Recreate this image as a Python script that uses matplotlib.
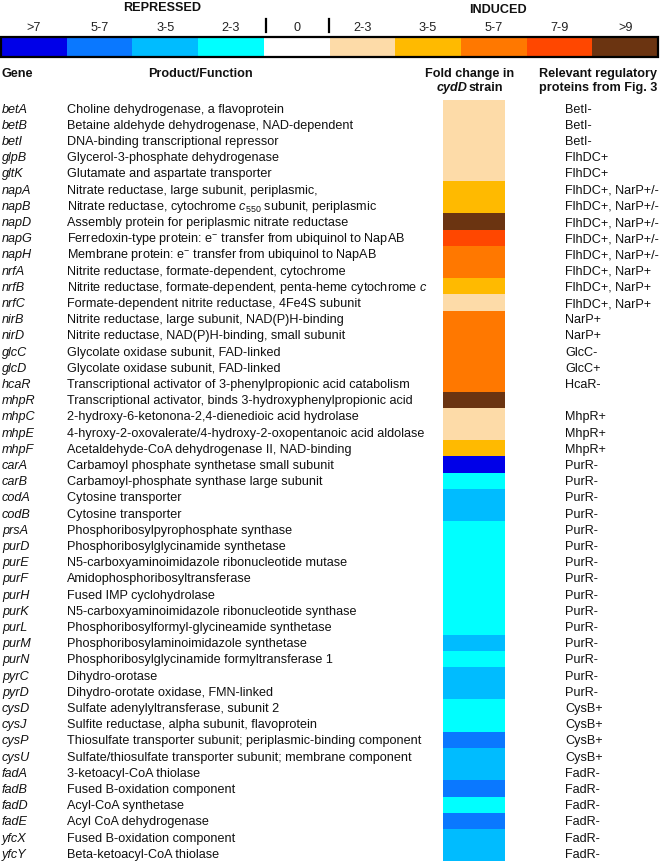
import numpy as np
import matplotlib
matplotlib.use("Agg")
import matplotlib.pyplot as plt
from matplotlib.colors import ListedColormap, BoundaryNorm

plt.rcParams['font.family'] = ['Liberation Sans', 'DejaVu Sans']
plt.rcParams['mathtext.fontset'] = 'custom'
plt.rcParams['mathtext.rm'] = 'Liberation Sans'
plt.rcParams['mathtext.it'] = 'Liberation Sans:italic'

# colour key: repressed (negative) -> induced (positive)
key_labels = ['>7', '5-7', '3-5', '2-3', '0', '2-3', '3-5', '5-7', '7-9', '>9']
key_levels = [-4, -3, -2, -1, 0, 1, 2, 3, 4, 5]
key_colors = ['#0000E8', '#0A78FF', '#00BCFF', '#00FFFF', '#FFFFFF',
              '#FDDBA8', '#FFBA00', '#FF7800', '#FF4700', '#6B3411']

genes = ['betA', 'betB', 'betI', 'glpB', 'gltK', 'napA', 'napB', 'napD', 'napG',
         'napH', 'nrfA', 'nrfB', 'nrfC', 'nirB', 'nirD', 'glcC', 'glcD', 'hcaR',
         'mhpR', 'mhpC', 'mhpE', 'mhpF', 'carA', 'carB', 'codA', 'codB', 'prsA',
         'purD', 'purE', 'purF', 'purH', 'purK', 'purL', 'purM', 'purN', 'pyrC',
         'pyrD', 'cysD', 'cysJ', 'cysP', 'cysU', 'fadA', 'fadB', 'fadD', 'fadE',
         'yfcX', 'yfcY']

products = [
    'Choline dehydrogenase, a flavoprotein',
    'Betaine aldehyde dehydrogenase, NAD-dependent',
    'DNA-binding transcriptional repressor',
    'Glycerol-3-phosphate dehydrogenase',
    'Glutamate and aspartate transporter',
    'Nitrate reductase, large subunit, periplasmic,',
    r'Nitrate reductase, cytochrome $c_{550}$ subunit, periplasmic',
    'Assembly protein for periplasmic nitrate reductase',
    r'Ferredoxin-type protein: e$^{-}$ transfer from ubiquinol to NapAB',
    r'Membrane protein: e$^{-}$ transfer from ubiquinol to NapAB',
    'Nitrite reductase, formate-dependent, cytochrome',
    r'Nitrite reductase, formate-dependent, penta-heme cytochrome $c$',
    'Formate-dependent nitrite reductase, 4Fe4S subunit',
    'Nitrite reductase, large subunit, NAD(P)H-binding',
    'Nitrite reductase, NAD(P)H-binding, small subunit',
    'Glycolate oxidase subunit, FAD-linked',
    'Glycolate oxidase subunit, FAD-linked',
    'Transcriptional activator of 3-phenylpropionic acid catabolism',
    'Transcriptional activator, binds 3-hydroxyphenylpropionic acid',
    '2-hydroxy-6-ketonona-2,4-dienedioic acid hydrolase',
    '4-hyroxy-2-oxovalerate/4-hydroxy-2-oxopentanoic acid aldolase',
    'Acetaldehyde-CoA dehydrogenase II, NAD-binding',
    'Carbamoyl phosphate synthetase small subunit',
    'Carbamoyl-phosphate synthase large subunit',
    'Cytosine transporter',
    'Cytosine transporter',
    'Phosphoribosylpyrophosphate synthase',
    'Phosphoribosylglycinamide synthetase',
    'N5-carboxyaminoimidazole ribonucleotide mutase',
    'Amidophosphoribosyltransferase',
    'Fused IMP cyclohydrolase',
    'N5-carboxyaminoimidazole ribonucleotide synthase',
    'Phosphoribosylformyl-glycineamide synthetase',
    'Phosphoribosylaminoimidazole synthetase',
    'Phosphoribosylglycinamide formyltransferase 1',
    'Dihydro-orotase',
    'Dihydro-orotate oxidase, FMN-linked',
    'Sulfate adenylyltransferase, subunit 2',
    'Sulfite reductase, alpha subunit, flavoprotein',
    'Thiosulfate transporter subunit; periplasmic-binding component',
    'Sulfate/thiosulfate transporter subunit; membrane component',
    '3-ketoacyl-CoA thiolase',
    'Fused \u0392-oxidation component',
    'Acyl-CoA synthetase',
    'Acyl CoA dehydrogenase',
    'Fused \u0392-oxidation component',
    'Beta-ketoacyl-CoA thiolase',
]

fold_level = [1, 1, 1, 1, 1, 2, 2, 5, 4, 3, 3, 2, 1, 3, 3, 3, 3, 3, 5, 1, 1, 2,
              -4, -1, -2, -2, -1, -1, -1, -1, -1, -1, -1, -2, -1, -2, -2, -1, -1,
              -3, -2, -2, -3, -1, -3, -2, -2]

regulators = ['BetI-', 'BetI-', 'BetI-', 'FlhDC+', 'FlhDC+'] + \
    ['FlhDC+, NarP+/-'] * 5 + ['FlhDC+, NarP+'] * 3 + ['NarP+', 'NarP+',
    'GlcC-', 'GlcC+', 'HcaR-', '', 'MhpR+', 'MhpR+', 'MhpR+'] + \
    ['PurR-'] * 15 + ['CysB+'] * 4 + ['FadR-'] * 6

cmap = ListedColormap(key_colors)
norm = BoundaryNorm(np.arange(-4.5, 6.5, 1), cmap.N)

fig = plt.figure(figsize=(6.64, 8.63), dpi=100)
ax = fig.add_axes([0, 0, 1, 1])
ax.set_xlim(0, 664)
ax.set_ylim(863, 0)
ax.axis('off')

fs = 9.1
txt = '#111111'

# colour key bar
kx = np.linspace(1, 658, len(key_levels) + 1)
ax.pcolormesh(kx, [37, 57], np.array([key_levels]), cmap=cmap, norm=norm)
ax.add_patch(plt.Rectangle((kx[0], 37), kx[-1] - kx[0], 20, fill=False,
                           ec='black', lw=1.6))
for i, lab in enumerate(key_labels):
    ax.text((kx[i] + kx[i + 1]) / 2, 31, lab, ha='center', va='baseline',
            fontsize=fs, color='#222222')
for xm in (266, 329):
    ax.plot([xm, xm], [19, 32], color='black', lw=1.6)
ax.text(162, 11, 'REPRESSED', ha='center', va='baseline', fontsize=fs,
        fontweight='bold', color=txt)
ax.text(498, 13, 'INDUCED', ha='center', va='baseline', fontsize=fs,
        fontweight='bold', color=txt)

# column headers
ax.text(1, 77, 'Gene', ha='left', va='baseline', fontsize=fs,
        fontweight='bold', color=txt)
ax.text(200, 77, 'Product/Function', ha='center', va='baseline', fontsize=fs,
        fontweight='bold', color=txt)
ax.text(470, 77, 'Fold change in', ha='center', va='baseline', fontsize=fs,
        fontweight='bold', color=txt)
ax.text(467, 91, 'cydD', ha='right', va='baseline', fontsize=fs,
        fontweight='bold', style='italic', color=txt)
ax.text(469, 91, 'strain', ha='left', va='baseline', fontsize=fs,
        fontweight='bold', color=txt)
ax.text(598, 77, 'Relevant regulatory', ha='center', va='baseline',
        fontsize=fs, fontweight='bold', color=txt)
ax.text(598, 91, 'proteins from Fig. 3', ha='center', va='baseline',
        fontsize=fs, fontweight='bold', color=txt)

# heat column
top, rh = 100, 16.2
n = len(genes)
ye = top + rh * np.arange(n + 1)
ax.pcolormesh([443, 505], ye, np.array(fold_level)[:, None], cmap=cmap,
              norm=norm)

for i in range(n):
    yb = top + rh * (i + 0.5) + 4.5
    ax.text(2, yb, genes[i], ha='left', va='baseline', fontsize=fs,
            style='italic', color=txt)
    ax.text(67, yb, products[i], ha='left', va='baseline', fontsize=fs,
            color=txt)
    ax.text(565, yb, regulators[i], ha='left', va='baseline', fontsize=fs,
            color=txt)

fig.savefig('out.png', dpi=100)
